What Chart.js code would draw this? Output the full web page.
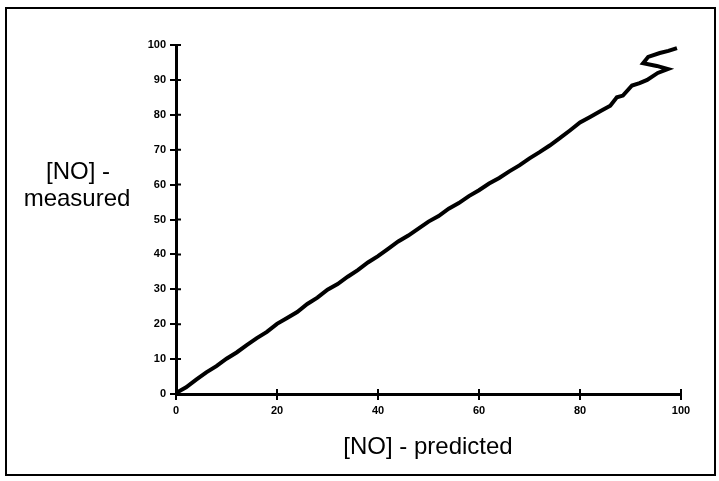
<!DOCTYPE html>
<html>
<head>
<meta charset="utf-8">
<script src="https://cdn.jsdelivr.net/npm/chart.js@4.4.1/dist/chart.umd.min.js"></script>
<style>
  html, body { margin: 0; padding: 0; background: #fff; }
  #wrap { width: 719px; height: 481px; }
</style>
</head>
<body>
<div id="wrap"><canvas id="noChart" width="719" height="481"></canvas></div>
<script>
// [NO] predicted vs measured
const predicted = [0, 2, 4, 6, 8, 10, 12, 14, 16, 18, 20, 22, 24, 26, 28, 30, 32, 34, 36,
  38, 40, 42, 44, 46, 48, 50, 52, 54, 56, 58, 60, 62, 64, 66, 68, 70, 72, 74, 76,
  78, 80, 82, 84, 86, 87.3, 88.5, 90.3, 91.8, 93.3, 95.4, 97.4, 95.2, 92.5, 93.5, 95.8, 97.5, 99.2];
const measured = [0.3, 1.9, 4.1, 6.2, 8.0, 10.1, 11.9, 14.0, 16.0, 17.8, 20.1, 21.8, 23.5, 25.8, 27.6, 29.9, 31.5, 33.6, 35.5,
  37.7, 39.5, 41.6, 43.7, 45.4, 47.4, 49.4, 51.0, 53.1, 54.7, 56.7, 58.4, 60.3, 61.9, 63.8, 65.5, 67.5, 69.3, 71.2, 73.3,
  75.5, 77.8, 79.4, 81.0, 82.6, 85.0, 85.5, 88.4, 89.1, 90.0, 92.0, 93.1, 94.0, 94.8, 96.6, 97.7, 98.3, 99.1];
const xTicks = [0, 20, 40, 60, 80, 100];
const yTicks = [0, 10, 20, 30, 40, 50, 60, 70, 80, 90, 100];

const points = predicted.map((p, i) => ({ x: p, y: measured[i] }));
const tickFont = { family: '"Liberation Sans Narrow", "Liberation Sans", Arial', size: 11, weight: 'bold' };

// frame, titles and ticks that cross the axes
const extras = {
  id: 'extras',
  afterDraw(chart) {
    const ctx = chart.ctx;
    const xs = chart.scales.x, ys = chart.scales.y;
    ctx.save();
    ctx.strokeStyle = '#000';
    ctx.lineWidth = 2;
    ctx.strokeRect(6, 8, 709, 467);

    ctx.beginPath();
    yTicks.forEach(v => {
      const py = ys.getPixelForValue(v);
      ctx.moveTo(xs.left, py);
      ctx.lineTo(xs.left + 5, py);
    });
    xTicks.forEach(v => {
      const px = xs.getPixelForValue(v);
      ctx.moveTo(px, ys.bottom);
      ctx.lineTo(px, ys.bottom - 5);
    });
    ctx.stroke();

    ctx.fillStyle = '#000';
    ctx.font = '24px "Liberation Sans", Arial';
    ctx.textAlign = 'center';
    ctx.textBaseline = 'middle';
    ctx.fillText('[NO] -', 78, 172);
    ctx.fillText('measured', 77, 199);
    ctx.fillText('[NO] - predicted', 428, 447);
    ctx.restore();
  }
};

new Chart(document.getElementById('noChart'), {
  type: 'scatter',
  data: {
    datasets: [{
      data: points,
      showLine: true,
      borderColor: '#000',
      borderWidth: 4,
      pointRadius: 0,
      tension: 0
    }]
  },
  options: {
    responsive: false,
    animation: false,
    layout: { padding: { left: 0, right: 38, top: 45, bottom: 0 } },
    plugins: { legend: { display: false }, tooltip: { enabled: false } },
    scales: {
      x: {
        type: 'linear', min: 0, max: 100,
        afterBuildTicks: s => { s.ticks = xTicks.map(v => ({ value: v })); },
        afterFit: s => { s.height = 87; },
        border: { display: true, color: '#000', width: 3 },
        grid: { drawOnChartArea: false, drawTicks: true, tickLength: 6, color: '#000', lineWidth: 2 },
        ticks: { color: '#000', font: tickFont, padding: 4, maxRotation: 0 }
      },
      y: {
        type: 'linear', min: 0, max: 100,
        afterBuildTicks: s => { s.ticks = yTicks.map(v => ({ value: v })); },
        afterFit: s => { s.width = 176; },
        border: { display: true, color: '#000', width: 3 },
        grid: { drawOnChartArea: false, drawTicks: true, tickLength: 6, color: '#000', lineWidth: 2 },
        ticks: { color: '#000', font: tickFont, padding: 4 }
      }
    }
  },
  plugins: [extras]
});
</script>
</body>
</html>
